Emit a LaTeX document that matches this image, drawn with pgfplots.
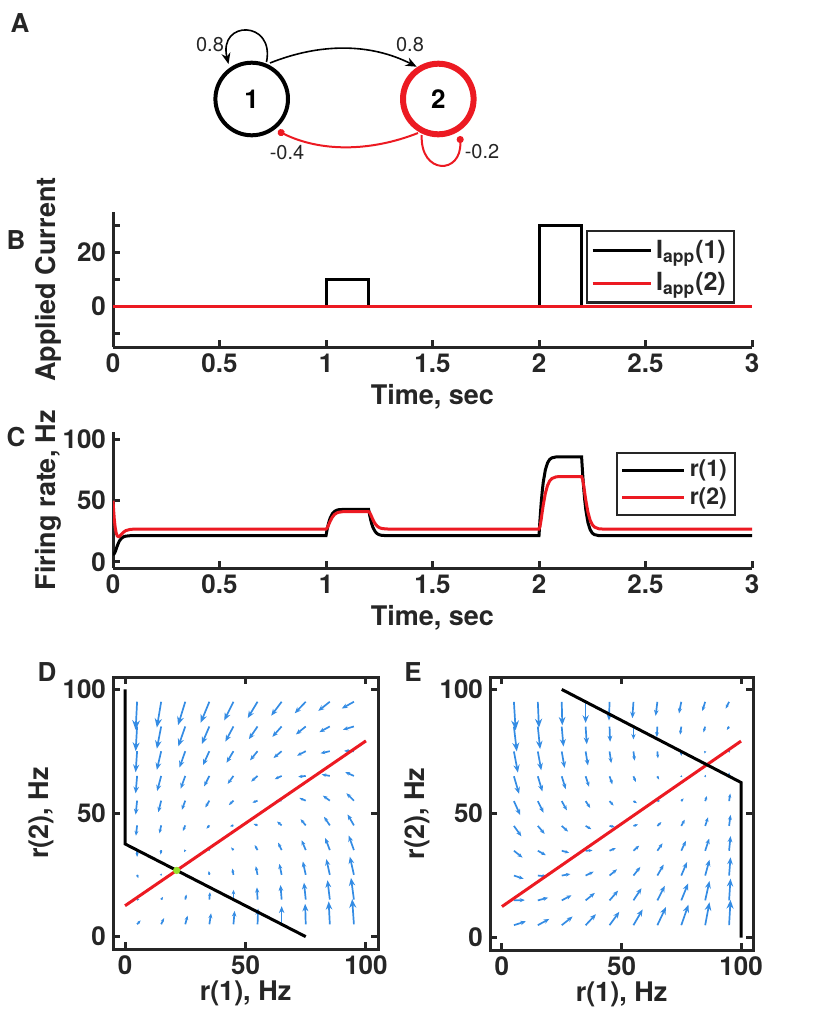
\documentclass[border=0pt]{standalone}
\usepackage{fontspec}
\setmainfont{TeX Gyre Heros}
\usepackage{pgfplots}
\usepackage{pgfplotstable}
\pgfplotsset{compat=1.18}
\usetikzlibrary{arrows.meta}

\definecolor{mred}{RGB}{236,26,34}
\definecolor{qblue}{RGB}{52,140,228}
\definecolor{axc}{RGB}{38,38,38}
\definecolor{fpgreen}{RGB}{150,225,40}

\pgfplotsset{
  myax/.style={scale only axis,
    axis line style={axc, line width=1.5pt},
    tick style={axc, line width=1.5pt},
    major tick length=3.5pt, tick align=inside,
    ticklabel style={font=\bfseries\fontsize{13}{15}\selectfont, text=axc},
    label style={font=\bfseries\fontsize{13.5}{16}\selectfont, text=axc},
    /pgf/number format/assume math mode=true},
  quivstyle/.style={qblue, line width=0.85pt,
    point meta={sqrt((\thisrow{u})^2+(\thisrow{v})^2)},
    quiver={u=\thisrow{u}, v=\thisrow{v}, scale arrows=0.12,
      every arrow/.append style={-{Stealth[length=1pt+\pgfplotspointmetatransformed*0.004pt, width=0.8pt+\pgfplotspointmetatransformed*0.0032pt]}}}},
}

\pgfplotstableread{
x y u v
5 5 12 13
15 5 10 21
25 5 8 29
35 5 6 37
45 5 4 45
55 5 2 53
65 5 0 61
75 5 -2 69
85 5 -4 77
95 5 -6 85
5 15 8 1
15 15 6 9
25 15 4 17
35 15 2 25
45 15 0 33
55 15 -2 41
65 15 -4 49
75 15 -6 57
85 15 -8 65
95 15 -10 73
5 25 4 -11
15 25 2 -3
25 25 0 5
35 25 -2 13
45 25 -4 21
55 25 -6 29
65 25 -8 37
75 25 -10 45
85 25 -12 53
95 25 -14 61
5 35 0 -23
15 35 -2 -15
25 35 -4 -7
35 35 -6 1
45 35 -8 9
55 35 -10 17
65 35 -12 25
75 35 -14 33
85 35 -16 41
95 35 -18 49
5 45 -4 -35
15 45 -6 -27
25 45 -8 -19
35 45 -10 -11
45 45 -12 -3
55 45 -14 5
65 45 -16 13
75 45 -18 21
85 45 -20 29
95 45 -22 37
5 55 -5 -47
15 55 -10 -39
25 55 -12 -31
35 55 -14 -23
45 55 -16 -15
55 55 -18 -7
65 55 -20 1
75 55 -22 9
85 55 -24 17
95 55 -26 25
5 65 -5 -59
15 65 -14 -51
25 65 -16 -43
35 65 -18 -35
45 65 -20 -27
55 65 -22 -19
65 65 -24 -11
75 65 -26 -3
85 65 -28 5
95 65 -30 13
5 75 -5 -71
15 75 -15 -63
25 75 -20 -55
35 75 -22 -47
45 75 -24 -39
55 75 -26 -31
65 75 -28 -23
75 75 -30 -15
85 75 -32 -7
95 75 -34 1
5 85 -5 -83
15 85 -15 -75
25 85 -24 -67
35 85 -26 -59
45 85 -28 -51
55 85 -30 -43
65 85 -32 -35
75 85 -34 -27
85 85 -36 -19
95 85 -38 -11
5 95 -5 -95
15 95 -15 -87
25 95 -25 -79
35 95 -30 -71
45 95 -32 -63
55 95 -34 -55
65 95 -36 -47
75 95 -38 -39
85 95 -40 -31
95 95 -42 -23
}\quivD

\pgfplotstableread{
x y u v
5 5 42 13
15 5 40 21
25 5 38 29
35 5 36 37
45 5 34 45
55 5 32 53
65 5 30 61
75 5 25 69
85 5 15 77
95 5 5 85
5 15 38 1
15 15 36 9
25 15 34 17
35 15 32 25
45 15 30 33
55 15 28 41
65 15 26 49
75 15 24 57
85 15 15 65
95 15 5 73
5 25 34 -11
15 25 32 -3
25 25 30 5
35 25 28 13
45 25 26 21
55 25 24 29
65 25 22 37
75 25 20 45
85 25 15 53
95 25 5 61
5 35 30 -23
15 35 28 -15
25 35 26 -7
35 35 24 1
45 35 22 9
55 35 20 17
65 35 18 25
75 35 16 33
85 35 14 41
95 35 5 49
5 45 26 -35
15 45 24 -27
25 45 22 -19
35 45 20 -11
45 45 18 -3
55 45 16 5
65 45 14 13
75 45 12 21
85 45 10 29
95 45 5 37
5 55 22 -47
15 55 20 -39
25 55 18 -31
35 55 16 -23
45 55 14 -15
55 55 12 -7
65 55 10 1
75 55 8 9
85 55 6 17
95 55 4 25
5 65 18 -59
15 65 16 -51
25 65 14 -43
35 65 12 -35
45 65 10 -27
55 65 8 -19
65 65 6 -11
75 65 4 -3
85 65 2 5
95 65 0 13
5 75 14 -71
15 75 12 -63
25 75 10 -55
35 75 8 -47
45 75 6 -39
55 75 4 -31
65 75 2 -23
75 75 0 -15
85 75 -2 -7
95 75 -4 1
5 85 10 -83
15 85 8 -75
25 85 6 -67
35 85 4 -59
45 85 2 -51
55 85 0 -43
65 85 -2 -35
75 85 -4 -27
85 85 -6 -19
95 85 -8 -11
5 95 6 -95
15 95 4 -87
25 95 2 -79
35 95 0 -71
45 95 -2 -63
55 95 -4 -55
65 95 -6 -47
75 95 -8 -39
85 95 -10 -31
95 95 -12 -23
}\quivE

\begin{document}
\begin{tikzpicture}
\path[use as bounding box] (0pt,0pt) rectangle (409.5pt,-508.5pt);

% panel letters
\begin{scope}[every node/.style={font=\bfseries\fontsize{13}{15}\selectfont, text=axc}]
\node at (10pt,-11.5pt) {A};
\node at (8pt,-120pt) {B};
\node at (8pt,-218.5pt) {C};
\node at (23.5pt,-336pt) {D};
\node at (206.5pt,-336pt) {E};
\end{scope}

% ---------- A: network diagram ----------
\begin{axis}[scale only axis, hide axis, clip=false,
  at={(90pt,-90pt)}, anchor=south west, width=170pt, height=82.5pt,
  xmin=180, xmax=520, ymin=-180, ymax=-15]
\node[circle, draw=black, line width=2pt, minimum size=36.3pt, inner sep=0pt,
  font=\bfseries\fontsize{13}{15}\selectfont] at (251.7,-99) {1};
\node[circle, draw=mred, line width=3pt, minimum size=35.3pt, inner sep=0pt,
  font=\bfseries\fontsize{13}{15}\selectfont] at (438.3,-99) {2};
\draw[black, line width=0.8pt, -{Stealth[length=5.5pt,width=4.5pt]}]
  (266.5,-62) .. controls (275,-20) and (218,-20) .. (228.5,-64);
\draw[black, line width=0.8pt, -{Stealth[length=5.5pt,width=4.5pt]}]
  (270,-63) .. controls (320,-43) and (370,-43) .. (416.7,-66.7);
\draw[mred, line width=1pt, -{Circle[length=3.5pt]}]
  (418,-133) .. controls (370,-152) and (320,-152) .. (278,-131);
\draw[mred, line width=1pt, -{Circle[length=3.5pt]}]
  (421.7,-135) .. controls (420,-175) and (462,-175) .. (460,-136);
\begin{scope}[every node/.style={font=\fontsize{10}{12}\selectfont, text=axc}]
\node at (210,-45) {0.8};
\node at (410,-45) {0.8};
\node at (287,-153) {-0.4};
\node at (482,-152) {-0.2};
\end{scope}
\end{axis}

% ---------- B: applied current ----------
\begin{axis}[myax, at={(56.5pt,-173.5pt)}, anchor=south west,
  width=319.5pt, height=67.5pt,
  xmin=0, xmax=3, ymin=-15, ymax=35,
  axis x line=bottom, axis y line=left, axis line style={-},
  tick align=inside,
  xtick={0,0.5,1,1.5,2,2.5,3},
  ytick={-10,0,10,20,30}, yticklabels={{},0,{},20,{}},
  xlabel={Time, sec}, ylabel={Applied Current},
  xlabel style={at={(axis description cs:0.5,-0.37)}, anchor=center},
  ylabel style={at={(axis description cs:-0.1017,0.5)}, anchor=center},
  legend style={at={(rel axis cs:0.9734,0.8667)}, anchor=north east,
    draw=axc, line width=1.2pt, fill=white,
    font=\bfseries\fontsize{12.5}{14}\selectfont, text=axc,
    inner xsep=2pt, inner ysep=2.5pt, row sep=1.5pt},
  legend cell align=left,
  legend image code/.code={\draw[#1, line width=1.5pt] (0pt,0pt) -- (29pt,0pt);}]
\addplot[black, line width=1.5pt] coordinates {
(0,0) (1,0) (1,10) (1.2,10) (1.2,0) (2,0) (2,30) (2.2,30) (2.2,0) (3,0)};
\addlegendentry{I\textsubscript{app}(1)}
\addplot[mred, line width=1.6pt] coordinates {(0,0) (3,0)};
\addlegendentry{I\textsubscript{app}(2)}
\end{axis}

% ---------- C: firing rates ----------
\begin{axis}[myax, at={(56.5pt,-284pt)}, anchor=south west,
  width=319.5pt, height=68pt,
  xmin=0, xmax=3, ymin=-5, ymax=106,
  axis x line=bottom, axis y line=left, axis line style={-},
  tick align=inside,
  xtick={0,0.5,1,1.5,2,2.5,3}, ytick={0,50,100},
  xlabel={Time, sec}, ylabel={Firing rate, Hz},
  xlabel style={at={(axis description cs:0.5,-0.368)}, anchor=center},
  ylabel style={at={(axis description cs:-0.1017,0.5)}, anchor=center},
  legend style={at={(rel axis cs:0.975,0.853)}, anchor=north east,
    draw=axc, line width=1.2pt, fill=white,
    font=\bfseries\fontsize{11.5}{13}\selectfont, text=axc,
    inner xsep=2pt, inner ysep=1.5pt, row sep=0pt},
  legend cell align=left,
  legend image code/.code={\draw[#1, line width=1.5pt] (0pt,0pt) -- (31pt,0pt);}]
\addplot[black, line width=1.5pt] coordinates {
(0,6) (0.005,6.5) (0.01,8) (0.015,10.5) (0.02,13) (0.025,15.2) (0.03,17) (0.04,19.3) (0.05,20.5) (0.06,21.0) (0.08,21.35) (0.1,21.43)
(1,21.43) (1.005,26.12) (1.01,30.13) (1.015,33.39) (1.02,35.96) (1.03,39.37) (1.04,41.21) (1.05,42.15) (1.06,42.58) (1.08,42.84) (1.1,42.86)
(1.2,42.86) (1.205,38.17) (1.21,34.16) (1.215,30.90) (1.22,28.33) (1.23,24.92) (1.24,23.08) (1.25,22.14) (1.26,21.71) (1.28,21.45) (1.3,21.43)
(2,21.43) (2.005,35.51) (2.01,47.53) (2.015,57.30) (2.02,65.02) (2.03,75.24) (2.04,80.77) (2.05,83.60) (2.06,84.88) (2.08,85.66) (2.1,85.72)
(2.2,85.72) (2.205,71.64) (2.21,59.62) (2.215,49.85) (2.22,42.13) (2.23,31.91) (2.24,26.38) (2.25,23.55) (2.26,22.27) (2.28,21.49) (2.3,21.43) (3,21.43)};
\addlegendentry{r(1)}
\addplot[mred, line width=1.5pt] coordinates {
(0,50) (0.003,42) (0.006,35) (0.01,28.5) (0.015,23.5) (0.02,21.2) (0.025,20.6) (0.03,20.8) (0.04,22.5) (0.05,24.3) (0.06,25.5) (0.08,26.5) (0.1,26.75) (0.12,26.79)
(1,26.79) (1.005,27.58) (1.01,29.32) (1.015,31.36) (1.02,33.33) (1.03,36.55) (1.04,38.65) (1.05,39.87) (1.06,40.52) (1.08,40.99) (1.1,41.08)
(1.2,41.08) (1.205,40.29) (1.21,38.55) (1.215,36.51) (1.22,34.54) (1.23,31.32) (1.24,29.22) (1.25,28.00) (1.26,27.35) (1.28,26.88) (1.3,26.79)
(2,26.79) (2.005,29.15) (2.01,34.38) (2.015,40.51) (2.02,46.42) (2.03,56.07) (2.04,62.37) (2.05,66.02) (2.06,67.99) (2.08,69.40) (2.1,69.66)
(2.2,69.66) (2.205,67.30) (2.21,62.07) (2.215,55.94) (2.22,50.03) (2.23,40.38) (2.24,34.08) (2.25,30.43) (2.26,28.46) (2.28,27.05) (2.3,26.79) (3,26.79)};
\addlegendentry{r(2)}
\end{axis}

% ---------- D: phase plane, baseline ----------
\begin{axis}[myax, at={(56.5pt,-474.5pt)}, anchor=south west,
  width=132.5pt, height=136pt,
  xmin=-5, xmax=105, ymin=-5, ymax=105,
  xtick={0,50,100}, ytick={0,50,100},
  point meta min=0, point meta max=100,
  xlabel={r(1), Hz}, ylabel={r(2), Hz},
  xlabel style={at={(axis description cs:0.5,-0.162)}, anchor=center},
  ylabel style={at={(axis description cs:-0.2717,0.5)}, anchor=center}]
\addplot[quivstyle] table[x=x, y=y] {\quivD};
\addplot[black, line width=1.5pt] coordinates {(0,100) (0,37.5) (75,0)};
\addplot[mred, line width=1.5pt] coordinates {(0,12.5) (100,79.17)};
\addplot[only marks, mark=*, mark size=1.6pt, fpgreen] coordinates {(21.43,26.79)};
\end{axis}

% ---------- E: phase plane, with input ----------
\begin{axis}[myax, at={(245pt,-475pt)}, anchor=south west,
  width=131.5pt, height=136.5pt,
  xmin=-5, xmax=105, ymin=-5, ymax=105,
  xtick={0,50,100}, ytick={0,50,100},
  point meta min=0, point meta max=100,
  xlabel={r(1), Hz}, ylabel={r(2), Hz},
  xlabel style={at={(axis description cs:0.5,-0.162)}, anchor=center},
  ylabel style={at={(axis description cs:-0.2776,0.5)}, anchor=center}]
\addplot[quivstyle] table[x=x, y=y] {\quivE};
\addplot[mred, line width=1.5pt] coordinates {(0,12.5) (100,79.17)};
\addplot[black, line width=1.5pt] coordinates {(25,100) (100,62.5) (100,0)};
\end{axis}
\end{tikzpicture}
\end{document}
